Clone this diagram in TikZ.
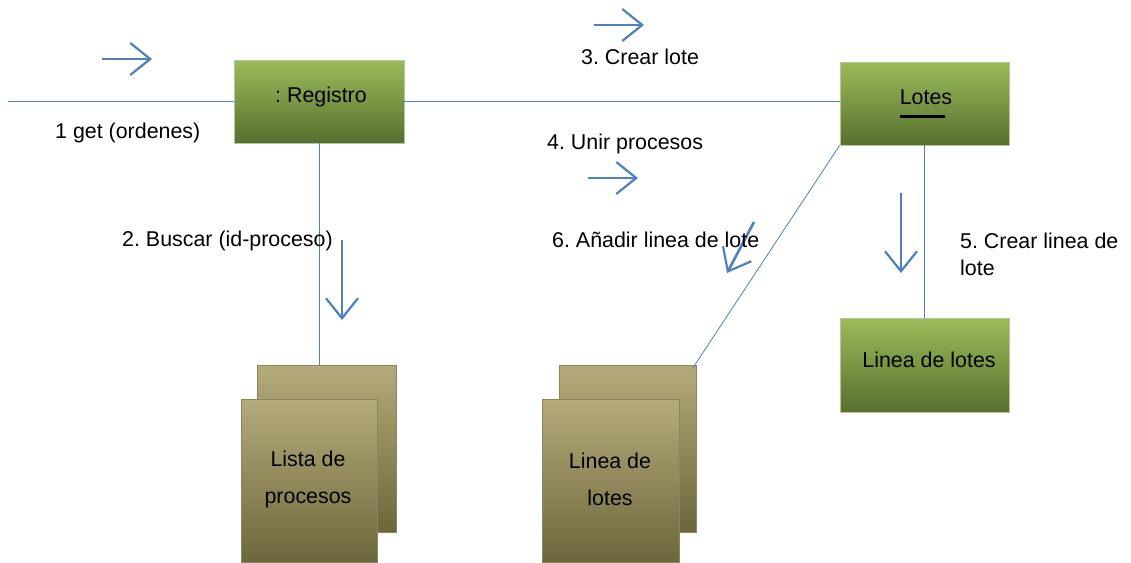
\documentclass[tikz,border=0pt]{standalone}
\usepackage{fontspec}
\setmainfont{Liberation Sans}
\usetikzlibrary{arrows.meta}
\frenchspacing
\definecolor{link}{HTML}{4F81BD}
\definecolor{grtop}{HTML}{9BBB59}
\definecolor{grbot}{HTML}{57702F}
\definecolor{grline}{HTML}{B9C4A0}
\definecolor{oltop}{HTML}{B5AA7A}
\definecolor{olbot}{HTML}{6C673B}
\definecolor{olline}{HTML}{8C8660}
\tikzset{
  objbox/.style={draw=grline, line width=0.8pt, top color=grtop, bottom color=grbot,
    inner sep=0pt, anchor=center},
  collbox/.style={draw=olline, line width=1pt, top color=oltop, bottom color=olbot,
    inner sep=0pt, anchor=center, align=center},
  link/.style={draw=link, line width=0.8pt},
  msgarrow/.style={draw=link, line width=2.6pt,
    -{Straight Barb[length=20pt,width=32pt,line width=2.2pt]}},
  lbl/.style={anchor=west, inner sep=0pt, align=left},
  boxtxt/.style={inner sep=0pt, align=center},
}
\begin{document}
\begin{tikzpicture}[x=1pt,y=-1pt,font=\fontsize{21.4}{25}\selectfont]
\useasboundingbox (0,0) rectangle (1131,562);

% objects
\node[objbox, minimum width=170pt, minimum height=83pt] (registro) at (319,101.5) {};
\node[boxtxt] (registrotxt) at (321,97) {: Registro};
\node[objbox, minimum width=169pt, minimum height=83pt] (lotes) at (924.5,103.5) {};
\node[anchor=base, inner sep=0pt] (lotestxt) at (926,104) {Lotes};
\draw[line width=3pt] (900,116) -- (945,116);
\node[objbox, minimum width=169pt, minimum height=94pt] (lineag) at (924.5,365) {};
\node[boxtxt] (lineagtxt) at (929,360) {Linea de lotes};

% multi-object collections
\node[collbox, minimum width=139pt, minimum height=167pt] (listaback) at (326.5,448.5) {};
\node[collbox, minimum width=136pt, minimum height=163pt] (listafront) at (309,481) {};
\node[boxtxt, font=\fontsize{21.4}{37}\selectfont] (listatxt) at (308,479) {Lista de\\procesos};
\node[collbox, minimum width=137pt, minimum height=167pt] (lineaback) at (627.5,448.5) {};
\node[collbox, minimum width=137pt, minimum height=163pt] (lineafront) at (610.5,481) {};
\node[boxtxt, font=\fontsize{21.4}{37}\selectfont] (lineatxt) at (610,479) {Linea de\\lotes};

% links
\coordinate (start) at (8,101);
\draw[link] (start) -- (registro.west |- start);
\draw[link] (registro.east |- start) -- (lotes.west |- start);
\draw[link] (registro.south) -- (registro.south |- listaback.north);
\draw[link] (lotes.south west) -- ([shift={(-4,4)}]lineaback.north east);
\draw[link] (lotes.south) -- (lineag.north);

% message arrows
\coordinate (m1a) at (102,59);  \coordinate (m1b) at (152,59);
\coordinate (m2a) at (342,240); \coordinate (m2b) at (342,320);
\coordinate (m3a) at (594,25);  \coordinate (m3b) at (644,25);
\coordinate (m4a) at (588,178); \coordinate (m4b) at (638,178);
\coordinate (m5a) at (901,193); \coordinate (m5b) at (901,273);
\coordinate (m6a) at (754,222); \coordinate (m6b) at (727,273);
\foreach \a/\b in {m1a/m1b, m2a/m2b, m3a/m3b, m4a/m4b, m5a/m5b, m6a/m6b}
  \draw[msgarrow] (\a) -- (\b);

% message labels
\node[lbl] (l1) at (55,133) {1 get (ordenes)};
\node[lbl] (l2) at (122,241) {2. Buscar (id-proceso)};
\node[lbl] (l3) at (581,57) {3. Crear lote};
\node[lbl] (l4) at (547,144) {4. Unir procesos};
\node[lbl] (l6) at (552,240) {6. Añadir linea de lote};
\node[lbl, font=\fontsize{21.4}{27}\selectfont] (l5) at (960,254) {5. Crear linea de\\lote};
\end{tikzpicture}
\end{document}
